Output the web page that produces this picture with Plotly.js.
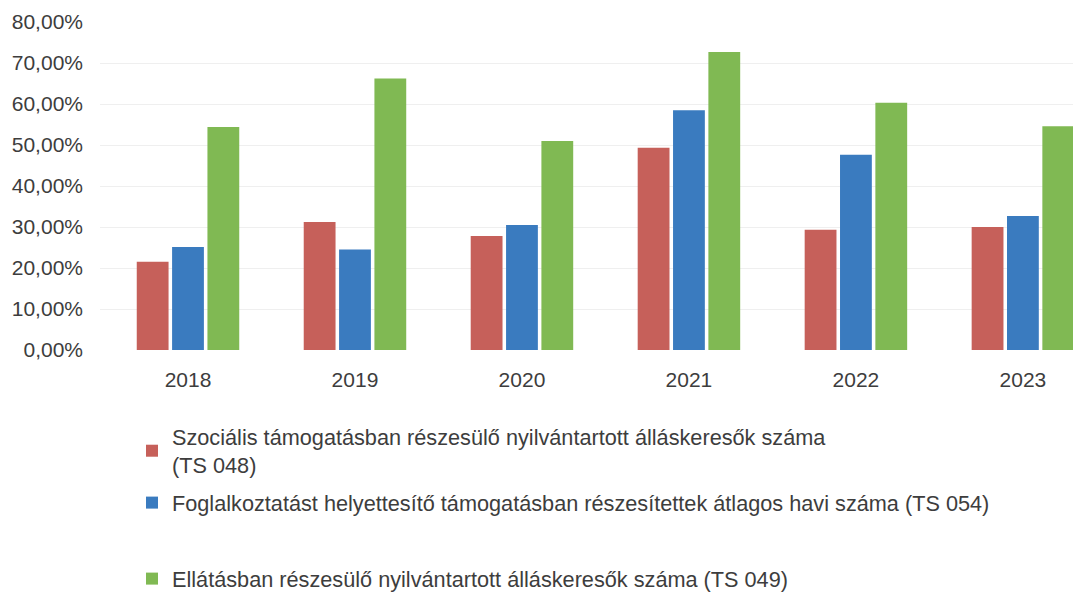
<!DOCTYPE html>
<html>
<head>
<meta charset="utf-8">
<script src="https://cdn.plot.ly/plotly-3.0.1.min.js"></script>
<style>html,body{margin:0;padding:0;background:#fff;}#chart{width:1073px;height:592px;}</style>
</head>
<body>
<div id="chart"></div>
<script>
const years = ['2018', '2019', '2020', '2021', '2022', '2023'];
const seriesNames = [
  'Szociális támogatásban részesülő nyilvántartott álláskeresők száma<br>(TS 048)',
  'Foglalkoztatást helyettesítő támogatásban részesítettek átlagos havi száma (TS 054)',
  'Ellátásban részesülő nyilvántartott álláskeresők száma (TS 049)'
];
const socialis = [21.5, 31.2, 27.8, 49.3, 29.3, 30.0];
const foglalkoztatast = [25.1, 24.5, 30.5, 58.5, 47.6, 32.7];
const ellatasban = [54.4, 66.2, 51.0, 72.7, 60.3, 54.6];
const yTicks = [0, 10, 20, 30, 40, 50, 60, 70, 80];
const yTickText = yTicks.map(v => v.toFixed(2).replace('.', ',') + '%');

const FONT = 'Liberation Sans, Arial, sans-serif';
const TXT = '#3d3d3d';
const colors = ['#c6605a', '#3a7bbf', '#80b953'];
const data = [socialis, foglalkoztatast, ellatasban].map((vals, i) => ({
  type: 'bar',
  x: years,
  y: vals,
  name: seriesNames[i],
  marker: {color: colors[i]},
  legend: i === 0 ? 'legend' : (i === 1 ? 'legend2' : 'legend3'),
  hoverinfo: 'none'
}));

const legendBase = {
  xref: 'container', yref: 'container', xanchor: 'left', yanchor: 'top',
  bgcolor: 'rgba(0,0,0,0)', borderwidth: 0,
  font: {family: FONT, size: 21.7, color: TXT}
};

const layout = {
  width: 1073, height: 592,
  margin: {l: 100, r: 0, t: 22, b: 242, autoexpand: false},
  paper_bgcolor: '#ffffff', plot_bgcolor: '#ffffff',
  barmode: 'group', bargap: 0.365, bargroupgap: 0.1,
  font: {family: FONT, color: TXT},
  xaxis: {
    type: 'category', range: [-0.527, 5.30], showgrid: false, zeroline: false,
    showline: false, ticks: '', ticklabelstandoff: 15, automargin: false,
    tickfont: {family: FONT, size: 21, color: TXT}
  },
  yaxis: {
    range: [0, 80], tickvals: yTicks, ticktext: yTickText,
    showgrid: true, gridcolor: '#efefef', gridwidth: 1, zeroline: false,
    showline: false, ticks: '', ticklabelstandoff: 16, automargin: false,
    tickfont: {family: FONT, size: 21, color: TXT}
  },
  showlegend: true,
  legend: Object.assign({}, legendBase, {x: 132 / 1073, y: 1 - 416 / 592}),
  legend2: Object.assign({}, legendBase, {x: 132 / 1073, y: 1 - 482 / 592}),
  legend3: Object.assign({}, legendBase, {x: 132 / 1073, y: 1 - 558 / 592})
};

Plotly.newPlot('chart', data, layout, {displayModeBar: false, staticPlot: true});
</script>
</body>
</html>
